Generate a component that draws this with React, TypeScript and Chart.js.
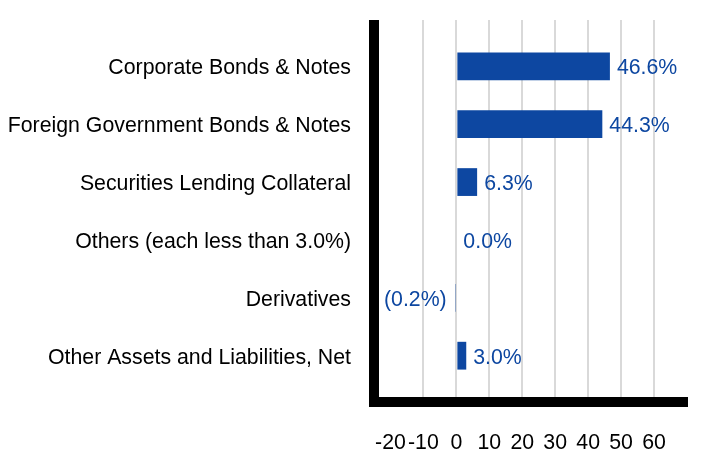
import { useEffect, useRef } from 'react';
import { Chart, registerables } from 'chart.js';

Chart.register(...registerables);

const categories = [
  'Corporate Bonds & Notes',
  'Foreign Government Bonds & Notes',
  'Securities Lending Collateral',
  'Others (each less than 3.0%)',
  'Derivatives',
  'Other Assets and Liabilities, Net',
];
const values = [46.6, 44.3, 6.3, 0.0, -0.2, 3.0];
const xTicks = [-20, -10, 0, 10, 20, 30, 40, 50, 60];

const BLUE = '#0d47a1';
const FONT = 'Liberation Sans, Arial, sans-serif';

function fmt(v: number) {
  return v < 0 ? `(${Math.abs(v).toFixed(1)}%)` : `${v.toFixed(1)}%`;
}

// value labels at the bar ends
const valueLabels = {
  id: 'valueLabels',
  afterDatasetsDraw(chart: Chart) {
    const ctx = chart.ctx;
    const meta = chart.getDatasetMeta(0);
    ctx.save();
    ctx.font = `21.3px ${FONT}`;
    ctx.fillStyle = BLUE;
    ctx.textBaseline = 'middle';
    meta.data.forEach((bar: any, i: number) => {
      const v = values[i];
      if (v < 0) {
        ctx.textAlign = 'right';
        ctx.fillText(fmt(v), bar.x - 9, bar.y + 2);
      } else {
        ctx.textAlign = 'left';
        ctx.fillText(fmt(v), bar.x + 7, bar.y + 2);
      }
    });
    ctx.restore();
  },
};

// thick black axis lines
const axisLines = {
  id: 'axisLines',
  afterDraw(chart: Chart) {
    const { ctx, chartArea } = chart;
    ctx.save();
    ctx.fillStyle = '#000';
    ctx.fillRect(chartArea.left - 5, chartArea.top, 10, chartArea.bottom - chartArea.top + 5);
    ctx.fillRect(chartArea.left - 5, chartArea.bottom - 5, chartArea.right - chartArea.left + 6, 10);
    ctx.restore();
  },
};

export default function App() {
  const canvasRef = useRef<HTMLCanvasElement>(null);
  const chartRef = useRef<Chart | null>(null);

  useEffect(() => {
    document.body.style.margin = '0';
    if (!canvasRef.current) return;
    if (chartRef.current) chartRef.current.destroy();

    chartRef.current = new Chart(canvasRef.current, {
      type: 'bar',
      data: {
        datasets: [
          {
            data: values.map((v, i) => ({ x: v, y: i })),
            backgroundColor: BLUE,
            borderWidth: 0,
            barPercentage: 0.48,
            categoryPercentage: 1,
          },
        ],
      },
      plugins: [valueLabels, axisLines],
      options: {
        indexAxis: 'y',
        animation: false,
        responsive: true,
        maintainAspectRatio: false,
        layout: { padding: { top: 20, right: 33, left: 0, bottom: 0 } },
        plugins: { legend: { display: false }, tooltip: { enabled: false } },
        scales: {
          x: {
            type: 'linear',
            min: -25,
            max: 70,
            afterBuildTicks: (scale: any) => {
              scale.ticks = xTicks.map((v) => ({ value: v }));
            },
            afterFit: (scale: any) => {
              scale.height = 66;
              scale.paddingLeft = 0;
              scale.paddingRight = 0;
            },
            grid: {
              color: (c: any) => (c.tick && c.tick.value === -20 ? 'rgba(0,0,0,0)' : '#d9d9d9'),
              lineWidth: 2,
              drawTicks: false,
            },
            border: { display: false },
            ticks: {
              color: '#000',
              font: { family: FONT, size: 21.3 },
              padding: 28,
              maxRotation: 0,
              autoSkip: false,
            },
          },
          y: {
            type: 'linear',
            reverse: true,
            offset: false,
            min: -0.8,
            max: 5.8,
            afterBuildTicks: (scale: any) => {
              scale.ticks = categories.map((_, i) => ({ value: i }));
            },
            afterFit: (scale: any) => {
              scale.width = 374;
              scale.paddingTop = 0;
              scale.paddingBottom = 0;
            },
            grid: { display: false, drawTicks: false, offset: false },
            border: { display: false },
            ticks: {
              color: '#000',
              font: { family: FONT, size: 21.3 },
              padding: 23,
              labelOffset: 2,
              autoSkip: false,
              callback: (v: any) => categories[v as number] ?? '',
            },
          },
        },
      },
    });

    return () => {
      if (chartRef.current) {
        chartRef.current.destroy();
        chartRef.current = null;
      }
    };
  }, []);

  return (
    <div style={{ width: 720, height: 468, position: 'relative' }}>
      <canvas ref={canvasRef}></canvas>
    </div>
  );
}
